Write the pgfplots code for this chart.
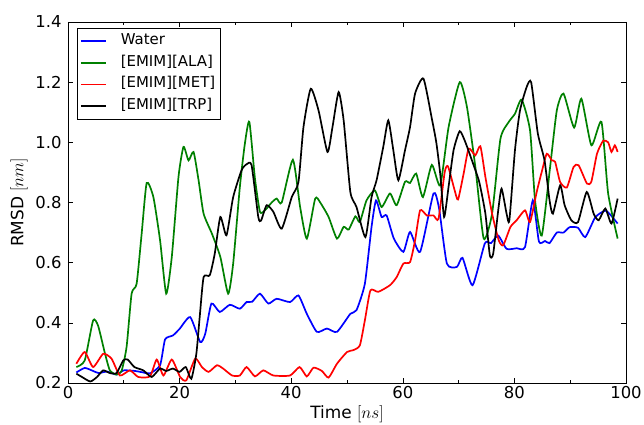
\documentclass[border=0pt]{standalone}
\usepackage{fontspec}
\setmainfont{DejaVu Sans}
\usepackage{pgfplots}
\pgfplotsset{compat=1.18}
\definecolor{mplgreen}{rgb}{0,0.5,0}
\pgfplotsset{mpl/.style={line width=1.7bp, smooth, tension=0.35}}
\begin{document}
\begin{tikzpicture}
\begin{axis}[
  name=ax,
  scale only axis, width=558bp, height=361bp,
  xmin=0, xmax=100, ymin=0.2, ymax=1.4,
  xtick={0,20,40,60,80,100}, minor xtick={10,30,50,70,90},
  ytick={0.2,0.4,0.6,0.8,1.0,1.2,1.4},
  ticklabel style={font=\fontsize{16.5}{18}\selectfont},
  yticklabel style={xshift=-3bp, /pgf/number format/.cd, fixed, fixed zerofill, precision=1},
  xticklabel style={/pgf/number format/.cd, fixed, precision=0},
  tick align=inside,
  major tick length=5bp, minor tick length=3bp,
  tick style={black, line width=0.6bp},
  axis line style={line width=0.8bp},
  /pgf/number format/assume math mode=true,
  xlabel={Time $[ns]$}, ylabel={RMSD $[nm]$},
  every axis x label/.style={at={(axis description cs:0.5,-0.097)}, anchor=base, font=\fontsize{17}{20}\selectfont},
  every axis y label/.style={at={(axis description cs:-0.0878,0.5)}, anchor=center, rotate=90, font=\fontsize{17}{20}\selectfont},
  legend cell align=left,
  legend image code/.code={\draw[#1, line width=1.7bp] (0bp,0bp) -- (25bp,0bp);},
  legend style={at={(0.016,0.983)}, anchor=north west, draw=black,
    font=\fontsize{15}{17}\selectfont, inner xsep=3bp, inner ysep=3.5bp,
    nodes={text height=10.8bp, text depth=4bp, inner sep=2bp}, row sep=2.8bp,
    /tikz/every odd column/.style={column sep=12bp}},
]
\addplot[blue, mpl] coordinates {
(1.5,0.235)(3.0,0.25)(4.5,0.24)(5.5,0.233)(7.0,0.238)(8.7,0.228)(10.0,0.242)(12.0,0.24)(13.5,0.235)(14.7,0.232)(16.5,0.259)(17.4,0.345)(18.8,0.358)(20.0,0.38)(21.9,0.419)(23.7,0.336)(24.6,0.364)(25.7,0.464)(27.2,0.436)(29.0,0.46)(30.8,0.447)(32.0,0.469)(33.0,0.47)(34.4,0.497)(35.9,0.464)(37.4,0.48)(39.8,0.469)(41.3,0.491)(42.8,0.43)(44.6,0.37)(46.4,0.381)(48.2,0.37)(50.6,0.43)(51.7,0.442)(53.2,0.53)(54.4,0.719)(55.2,0.807)(56.2,0.752)(57.1,0.757)(58.4,0.68)(60.1,0.636)(61.3,0.702)(63.1,0.636)(65.5,0.83)(66.5,0.78)(67.9,0.597)(69.7,0.586)(70.7,0.616)(72.5,0.525)(74.7,0.664)(75.8,0.665)(77.1,0.69)(78.6,0.646)(80.4,0.648)(81.9,0.652)(83.3,0.807)(84.4,0.67)(85.5,0.672)(86.3,0.665)(87.6,0.70)(88.8,0.70)(89.9,0.718)(91.4,0.716)(92.7,0.685)(94.5,0.751)(96.3,0.773)(97.4,0.755)(98.5,0.73)
};
\addlegendentry{Water}
\addplot[mplgreen, mpl] coordinates {
(1.5,0.253)(3.0,0.275)(4.5,0.408)(5.4,0.39)(6.6,0.30)(7.5,0.242)(8.7,0.228)(9.6,0.24)(10.5,0.32)(11.4,0.497)(12.3,0.53)(13.2,0.696)(14.1,0.865)(15.3,0.818)(16.5,0.674)(17.6,0.497)(18.6,0.619)(19.8,0.885)(20.7,0.985)(21.6,0.94)(22.5,0.968)(23.4,0.874)(24.3,0.763)(25.8,0.696)(27.3,0.619)(28.7,0.497)(29.6,0.597)(30.8,0.852)(31.7,0.996)(32.5,1.068)(33.5,0.88)(34.4,0.769)(35.3,0.774)(36.5,0.80)(37.4,0.813)(38.3,0.80)(40.3,0.942)(41.6,0.785)(42.8,0.68)(44.3,0.813)(45.2,0.80)(46.7,0.752)(48.2,0.68)(49.4,0.719)(50.3,0.71)(51.5,0.754)(52.3,0.735)(53.5,0.807)(55.0,0.84)(56.2,0.785)(57.7,0.83)(58.9,0.791)(60.4,0.869)(61.3,0.865)(62.4,0.896)(63.6,0.818)(65.2,0.925)(66.7,0.857)(68.2,1.05)(70.2,1.2)(71.5,1.117)(73.0,0.918)(74.5,0.68)(76.0,0.763)(77.5,1.012)(79.0,1.068)(80.1,1.095)(81.3,1.142)(82.8,1.04)(83.7,0.807)(84.9,0.69)(86.4,0.918)(87.6,1.106)(88.8,1.162)(90.7,1.049)(92.0,1.145)(93.8,0.99)(95.6,1.068)(96.8,0.83)(98.5,0.68)
};
\addlegendentry{[EMIM][ALA]}
\addplot[red, mpl] coordinates {
(1.5,0.264)(3.0,0.303)(4.5,0.253)(6.3,0.297)(7.8,0.281)(9.3,0.225)(11.1,0.242)(12.6,0.22)(14.7,0.222)(15.9,0.278)(17.1,0.225)(18.6,0.278)(20.1,0.22)(21.2,0.209)(22.8,0.281)(24.0,0.253)(25.2,0.237)(26.7,0.259)(27.8,0.248)(29.4,0.225)(30.8,0.225)(32.0,0.253)(33.5,0.222)(35.0,0.242)(36.8,0.225)(39.8,0.225)(41.5,0.253)(42.8,0.222)(44.0,0.251)(45.5,0.24)(46.7,0.218)(48.2,0.264)(50.0,0.303)(51.1,0.309)(52.3,0.325)(53.2,0.408)(54.2,0.508)(55.6,0.503)(57.7,0.525)(58.9,0.552)(60.1,0.597)(61.3,0.602)(62.2,0.674)(63.1,0.774)(64.3,0.757)(65.5,0.757)(66.4,0.746)(67.5,0.90)(68.1,0.92)(69.3,0.84)(69.9,0.81)(70.9,0.896)(71.8,0.979)(73.0,0.957)(73.9,0.987)(74.8,0.885)(76.0,0.763)(77.2,0.674)(78.0,0.658)(79.3,0.719)(80.4,0.741)(81.9,0.774)(82.8,0.735)(84.0,0.835)(84.9,0.902)(85.8,0.962)(86.7,0.94)(87.3,0.935)(88.2,0.868)(89.4,0.85)(90.6,0.918)(91.5,0.924)(93.0,0.863)(93.8,0.87)(94.8,0.962)(95.9,1.005)(96.8,1.0)(97.4,0.968)(98.0,0.99)(98.5,0.968)
};
\addlegendentry{[EMIM][MET]}
\addplot[black, mpl] coordinates {
(1.5,0.231)(2.5,0.22)(4.0,0.205)(5.2,0.22)(6.3,0.242)(7.5,0.233)(8.7,0.233)(9.9,0.275)(10.7,0.278)(11.9,0.253)(13.5,0.242)(15.0,0.22)(16.5,0.248)(17.6,0.24)(18.8,0.248)(20.0,0.237)(21.1,0.253)(22.1,0.214)(23.0,0.297)(23.6,0.419)(24.3,0.552)(25.4,0.558)(26.3,0.63)(27.3,0.752)(28.4,0.691)(29.6,0.818)(31.1,0.907)(32.0,0.927)(32.9,0.924)(34.1,0.752)(34.6,0.74)(35.6,0.791)(36.8,0.769)(38.3,0.713)(40.1,0.818)(41.3,0.868)(42.2,1.051)(43.5,1.178)(44.9,1.106)(46.5,0.968)(47.4,1.051)(48.5,1.167)(49.4,1.073)(50.6,0.835)(51.7,0.785)(53.3,0.685)(54.4,0.818)(55.3,0.874)(56.5,0.985)(57.4,1.073)(58.3,0.974)(59.2,0.874)(60.4,0.974)(61.3,1.051)(62.2,1.162)(63.7,1.212)(65.2,1.079)(66.0,1.0)(66.7,0.896)(67.4,0.752)(68.2,0.852)(69.1,0.974)(70.2,1.037)(71.2,1.001)(72.6,0.929)(73.7,0.868)(74.8,0.763)(75.6,0.624)(76.2,0.63)(77.1,0.774)(77.7,0.846)(78.6,0.763)(79.1,0.741)(80.1,0.974)(81.0,1.106)(82.2,1.184)(83.0,1.2)(84.2,1.029)(85.4,0.94)(86.3,0.807)(86.9,0.763)(88.2,0.857)(89.0,0.791)(90.2,0.741)(91.4,0.735)(92.96,0.835)(94.2,0.763)(95.1,0.741)(96.3,0.78)(97.4,0.73)(98.5,0.813)
};
\addlegendentry{[EMIM][TRP]}
\end{axis}
\pgfresetboundingbox
\path ([shift={(-68bp,-42bp)}]ax.south west) rectangle ([shift={(18bp,22bp)}]ax.north east);
\end{tikzpicture}
\end{document}
